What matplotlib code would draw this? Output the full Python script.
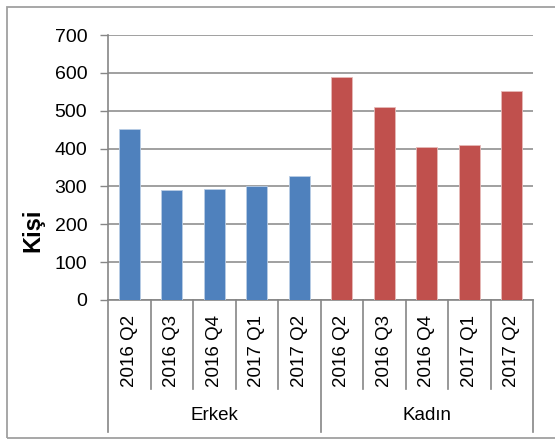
import numpy as np
import matplotlib
matplotlib.use("Agg")
import matplotlib.pyplot as plt
from matplotlib.patches import Rectangle
from matplotlib.transforms import blended_transform_factory

plt.rcParams["font.family"] = ["Liberation Sans", "DejaVu Sans"]

groups = ["Erkek", "Kadın"]
quarters = ["2016 Q2", "2016 Q3", "2016 Q4", "2017 Q1", "2017 Q2"]
erkek = [453, 291, 294, 300, 328]
kadin = [589, 511, 405, 410, 551]
colors = ["#4F81BD", "#C0504D"]
grey = "#868686"

W, H = 555, 440
fig = plt.figure(figsize=(W / 100, H / 100), dpi=100)

# outer chart border
fig.patches.append(Rectangle((7 / W, 1 - 438 / H), 1.0, (438 - 7) / H,
                             transform=fig.transFigure, fill=False,
                             edgecolor="#A0A0A0", linewidth=1.3))

ax = fig.add_axes([108 / W, 1 - 300 / H, (533 - 108) / W, (300 - 35) / H])

n = len(quarters)
x = np.arange(2 * n)
ax.bar(x[:n], erkek, width=0.5, color=colors[0], edgecolor="#B9CDE5",
       linewidth=0.6, zorder=3)
ax.bar(x[n:], kadin, width=0.5, color=colors[1], edgecolor="#E6B9B8",
       linewidth=0.6, zorder=3)

ax.set_xlim(-0.5, 2 * n - 0.5)
ax.set_ylim(0, 700)
ax.set_yticks(range(0, 701, 100))
ax.yaxis.grid(True, color=grey, linewidth=1.1, zorder=0)
ax.tick_params(axis="y", length=6, width=1, color=grey, pad=9, labelsize=14)
for s in ["top", "right"]:
    ax.spines[s].set_visible(False)
for s in ["left", "bottom"]:
    ax.spines[s].set_color(grey)
    ax.spines[s].set_linewidth(1.2)

ax.set_xticks(x)
ax.set_xticklabels(quarters * 2, rotation=90, fontsize=13.5)
ax.tick_params(axis="x", length=0, pad=11)

# category separators below the axis
tr = blended_transform_factory(ax.transData, ax.transAxes)
y_small = (300 - 389) / 265
y_big = (300 - 432) / 265
for i in range(2 * n + 1):
    xb = i - 0.5
    yb = y_big if i % n == 0 else y_small
    ax.plot([xb, xb], [0, yb], color=grey, linewidth=1.2, transform=tr,
            clip_on=False)

for g, name in enumerate(groups):
    ax.text(g * n + (n - 1) / 2, (300 - 416) / 265, name, transform=tr,
            ha="center", va="center", fontsize=13.5)

fig.text(33 / W, 1 - 230 / H, "Kişi", rotation=90, ha="center", va="center",
         fontsize=17, fontweight="bold")

fig.savefig("out.png", dpi=100)
